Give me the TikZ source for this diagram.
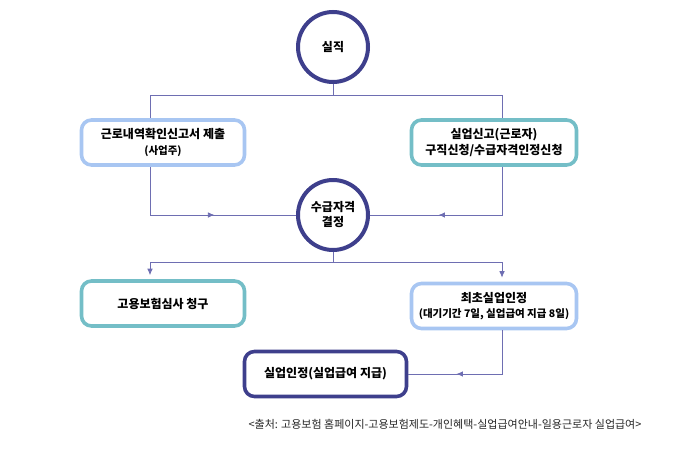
\documentclass[tikz,border=0pt]{standalone}
\usepackage{fontspec}
\setmainfont{Noto Sans CJK KR}
\usetikzlibrary{shapes,arrows.meta,decorations.markings}

\definecolor{navy}{HTML}{3E3F8C}
\definecolor{teal}{HTML}{74BEC7}
\definecolor{sky}{HTML}{A8C6F2}
\definecolor{wire}{HTML}{6E6EB2}

\begin{document}
\begin{tikzpicture}[x=1pt,y=-1pt,
    round/.style={circle, draw=navy, line width=4pt, fill=white, minimum size=70pt, inner sep=0pt, font=\bfseries\fontsize{12}{15}\selectfont, align=center},
    card/.style={rectangle, rounded corners=10pt, line width=3.6pt, fill=white, minimum width=163pt, minimum height=45pt, font=\bfseries\fontsize{12}{15.5}\selectfont, align=center},
    wire/.style={draw=wire, line width=0.8pt},
    midarrow/.style={decoration={markings, mark=at position #1 with {\arrow{Latex[length=6.5pt,width=5.5pt]}}}, postaction={decorate}}]
    \useasboundingbox (0,0) rectangle (700,452);
    % Top (loss of job)
    \node [round] (sj) at (333,47) {실직};
    \node [card, draw=sky] (gr) at (163,142.5) {근로내역확인신고서 제출\\{\fontsize{10.5}{12}\selectfont (사업주)}};
    \node [card, draw=teal, minimum width=165pt] (sy) at (494,142.5) {실업신고(근로자)\\구직신청/수급자격인정신청};
    % Middle (decision)
    \node [round] (sg) at (333,215) {수급자격\\결정};
    % Bottom row
    \node [card, draw=teal] (gh) at (163,303.5) {고용보험심사 청구};
    \node [card, draw=sky, minimum width=165pt] (cc) at (494,306) {최초실업인정\\{\fontsize{10.5}{12}\selectfont (대기기간 7일, 실업급여 지급 8일)}};
    \node [card, draw=navy, minimum width=162pt] (si) at (325.5,374) {실업인정(실업급여 지급)};
    \node [font=\fontsize{11}{13}\selectfont, text=black!85] (src) at (445,424) {<출처: 고용보험 홈페이지-고용보험제도-개인혜택-실업급여안내-일용근로자 실업급여>};
    \coordinate (jl) at (150,95);
    \coordinate (jr) at (502,95);
    \coordinate (kl) at (150,262);
    \coordinate (kr) at (502,262);
    \begin{scope}[every path/.style={wire}]
      \draw (sj.south) -- (sj.south |- jl);
      \draw (jl) -- (jr);
      \draw (jl) -- (jl |- gr.north);
      \draw (jr) -- (jr |- sy.north);
      \draw [midarrow=0.58] (jl |- gr.south) |- (sg.west);
      \draw [midarrow=0.62] (jr |- sy.south) |- (sg.east);
      \draw (sg.south) -- (sg.south |- kl);
      \draw (kl) -- (kr);
      \draw [-{Latex[length=6.5pt,width=5.5pt]}, shorten >=4pt] (kl) -- (kl |- gh.north);
      \draw [-{Latex[length=6.5pt,width=5.5pt]}, shorten >=4pt] (kr) -- (kr |- cc.north);
      \draw [midarrow=0.65] (kr |- cc.south) |- (si.east);
    \end{scope}
\end{tikzpicture}
\end{document}
